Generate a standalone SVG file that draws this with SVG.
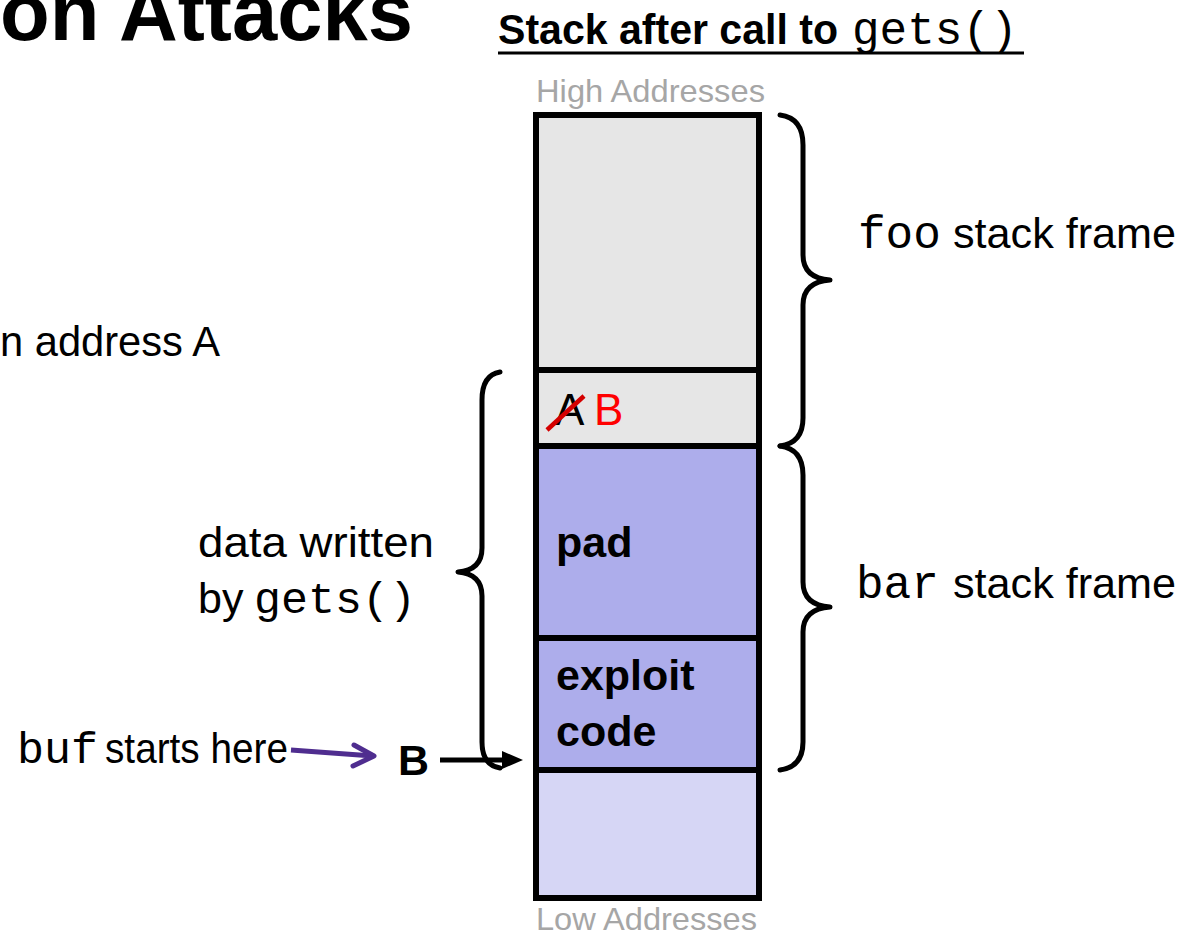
<svg xmlns="http://www.w3.org/2000/svg" width="1194" height="934" viewBox="0 0 1194 934">
<style>
.s{font-family:"Liberation Sans",Arial,sans-serif;font-size:43px;fill:#000}
.b{font-weight:bold}
.m{font-family:"Liberation Mono","Courier New",monospace;font-size:45px;fill:#000}
.g{font-family:"Liberation Sans",Arial,sans-serif;font-size:32px;fill:#a6a6a6}
.cell{stroke:#000;stroke-width:6}
.brace{fill:none;stroke:#000;stroke-width:5;stroke-linecap:round;stroke-linejoin:round}
</style>
<rect width="1194" height="934" fill="#fff"/>
<g id="title">
<text x="0" y="40" class="s b" style="font-size:82px" textLength="413" lengthAdjust="spacingAndGlyphs">on Attacks</text>
</g>
<g id="heading">
<text x="498" y="44" class="s b" textLength="340" lengthAdjust="spacingAndGlyphs">Stack after call to</text>
<text x="852" y="44" class="m" style="font-size:46px">gets()</text>
<line x1="498" y1="53" x2="1024" y2="53" stroke="#000" stroke-width="3"/>
</g>
<g id="high-label"><text x="536" y="102" class="g" textLength="229" lengthAdjust="spacingAndGlyphs">High Addresses</text></g>
<g id="low-label"><text x="536" y="930" class="g" textLength="221" lengthAdjust="spacingAndGlyphs">Low Addresses</text></g>
<g id="foo-frame-cell"><rect x="536" y="115" width="223" height="255" fill="#e6e6e6" class="cell"/></g>
<g id="ret-cell">
<rect x="536" y="370" width="223" height="76" fill="#e6e6e6" class="cell"/>
<text x="555" y="425" class="s" style="font-size:44px">A</text>
<line x1="547" y1="430" x2="584" y2="396" stroke="#d40000" stroke-width="4.5"/>
<text x="594" y="425" class="s" style="font-size:44px;fill:#ff0000">B</text>
</g>
<g id="pad-cell">
<rect x="536" y="446" width="223" height="192" fill="#adadeb" class="cell"/>
<text x="556" y="557" class="s b">pad</text>
</g>
<g id="exploit-cell">
<rect x="536" y="638" width="223" height="132" fill="#adadeb" class="cell"/>
<text x="556" y="690" class="s b">exploit</text>
<text x="556" y="746" class="s b">code</text>
</g>
<g id="low-cell"><rect x="536" y="770" width="223" height="128" fill="#d6d6f5" class="cell"/></g>
<g id="foo-label">
<text x="858" y="248" class="m" style="font-size:46px">foo</text>
<text x="953" y="248" class="s" textLength="223" lengthAdjust="spacingAndGlyphs">stack frame</text>
</g>
<g id="bar-label">
<text x="856" y="598" class="m" style="font-size:46px">bar</text>
<text x="953" y="598" class="s" textLength="223" lengthAdjust="spacingAndGlyphs">stack frame</text>
</g>
<g id="data-label">
<text x="198" y="557" class="s" textLength="236" lengthAdjust="spacingAndGlyphs">data written</text>
<text x="198" y="613" class="s">by</text>
<text x="254" y="613" class="m">gets()</text>
</g>
<g id="addr-label"><text x="0" y="356" class="s" textLength="220" lengthAdjust="spacingAndGlyphs">n address A</text></g>
<g id="buf-label">
<text x="17" y="763" class="m">buf</text>
<text x="105" y="763" class="s" textLength="183" lengthAdjust="spacingAndGlyphs">starts here</text>
</g>
<g id="B-label"><text x="398" y="775" class="s b">B</text></g>
<g id="connectors">
<path class="brace" d="M780,115 Q803,118 803,145 L803,255 Q803,278 830,280 Q803,282 803,305 L803,418 Q803,443 780,446"/>
<path class="brace" d="M780,446 Q803,449 803,475 L803,582 Q803,605 830,607 Q803,609 803,632 L803,742 Q803,767 780,770"/>
<path class="brace" d="M500,372 Q482,375 482,400 L482,548 Q482,570 458,572 Q482,574 482,596 L482,742 Q482,765 500,768"/>
<line x1="440" y1="760" x2="506" y2="760" stroke="#000" stroke-width="5"/>
<polygon points="502,751 523,760 502,769" fill="#000"/>
<path d="M291,750 L373,756" fill="none" stroke="#4f2d8f" stroke-width="5"/>
<path d="M354,745 L374,756 L353,766" fill="none" stroke="#4f2d8f" stroke-width="5" stroke-linecap="round" stroke-linejoin="round"/>
</g>
</svg>
